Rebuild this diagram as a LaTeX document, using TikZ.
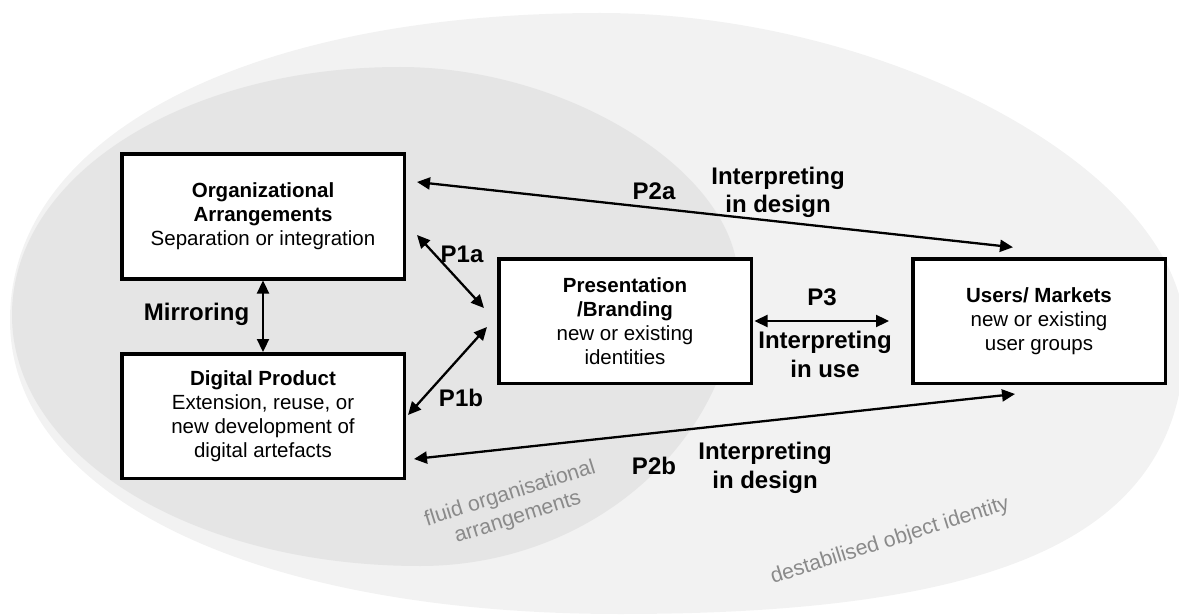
\documentclass[tikz,border=0pt]{standalone}
\usepackage{fontspec}
\setmainfont{Liberation Sans}
\usetikzlibrary{arrows.meta}
\definecolor{outerfill}{HTML}{F2F2F2}
\definecolor{innerfill}{HTML}{E5E5E5}
\definecolor{zonetext}{HTML}{8A8A8A}
\begin{document}
\begin{tikzpicture}[x=1pt,y=-1pt,
  box/.style={draw=black, line width=3.5pt, fill=white, minimum width=282.5pt,
    minimum height=124.5pt, inner sep=0pt, align=center,
    font=\fontsize{20.5}{24}\selectfont},
  wbox/.style={box, minimum width=252.5pt},
  lab/.style={font=\bfseries\fontsize{24}{28.5}\selectfont, align=center,
    anchor=base, inner sep=0pt},
  zone/.style={text=zonetext, font=\fontsize{21.3}{25}\selectfont, align=center,
    rotate=17.5, inner sep=0pt},
  link/.style={line width=2.3pt,
    {Triangle[length=13pt,width=12pt]}-{Triangle[length=13pt,width=12pt]}}]
\useasboundingbox (0,0) rectangle (1179,615);
\clip (0,0) rectangle (1179,615);

% outer region: destabilised object identity
\fill[outerfill] (10,320)
  .. controls (10,136) and (246,13) .. (600,13)
  .. controls (892,13) and (1185,174) .. (1185,335)
  .. controls (1185,530) and (1016,614) .. (620,614)
  .. controls (254,614) and (10,496) .. (10,320) -- cycle;

% inner region: fluid organisational arrangements
\fill[innerfill] (12,315)
  .. controls (12,176) and (183,67) .. (400,67)
  .. controls (569,67) and (738,173.5) .. (738,280)
  .. controls (738,437) and (595,566) .. (420,566)
  .. controls (191.5,566) and (12,455.6) .. (12,315) -- cycle;

\node[zone] (fluid) at (514,506) {fluid organisational\\arrangements};
\node[zone] (destab) at (890,541) {destabilised object identity};

% boxes
\node[box] (org) at (263,216.5)
  {\textbf{Organizational}\\\textbf{Arrangements}\\Separation or integration};
\node[box] (dig) at (263,416)
  {\textbf{Digital Product}\\Extension, reuse, or\\new development of\\digital artefacts};
\node[wbox] (pres) at (625,321)
  {\textbf{Presentation}\\\textbf{/Branding}\\new or existing\\identities};
\node[wbox] (users) at (1039,321)
  {\textbf{Users/ Markets}\\new or existing\\user groups};

% connectors
\draw[link] (org.south) -- (dig.north);
\draw[link] ([shift={(11,18.5)}]org.east) -- ([shift={(-13,-13)}]pres.west);
\draw[link] ([shift={(-10,6)}]pres.west) -- ([shift={(2,-1)}]dig.east);
\draw[link] ([shift={(11,-34.5)}]org.east) -- ([shift={(-26,-9.75)}]users.north);
\draw[link] ([shift={(8,43)}]dig.east) -- ([shift={(-24,9)}]users.south);
\draw[link] ([shift={(1.5,0)}]pres.east) -- ([shift={(-22,0)}]users.west);

% labels (multi-line ones sit on the baseline of their last line)
\node[lab] (mirror) at (196.5,320) {Mirroring};
\node[lab] (p1a) at (462,262) {P1a};
\node[lab] (p1b) at (461,406) {P1b};
\node[lab] (p2a) at (654,200) {P2a};
\node[lab] (d2a) at (778,213) {Interpreting\\in design};
\node[lab] (p3) at (822,305) {P3};
\node[lab] (use) at (825,377) {Interpreting\\in use};
\node[lab] (p2b) at (654,474) {P2b};
\node[lab] (d2b) at (765,488) {Interpreting\\in design};
\end{tikzpicture}
\end{document}
